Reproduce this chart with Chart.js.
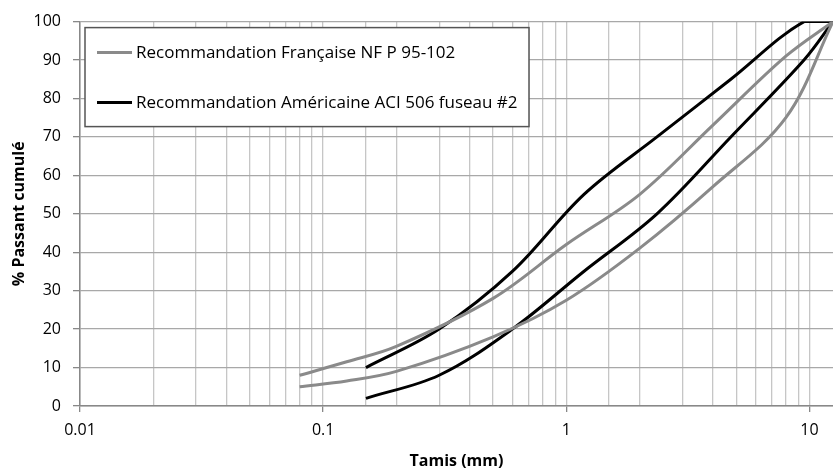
<!DOCTYPE html>
<html lang="fr">
<head>
  <meta charset="UTF-8">
  <title>Fuseaux granulométriques</title>
  <script src="https://cdn.jsdelivr.net/npm/chart.js"></script>
  <style>
    body {
      margin: 0;
      background: #fff;
    }
    #wrap {
      width: 833px;
      height: 471px;
    }
  </style>
</head>
<body>
  <div id="wrap">
    <canvas id="courbe"></canvas>
  </div>

  <script>
    // tamis (mm) et % passant
    const nfSieves = [0.08, 0.125, 0.2, 0.5, 1, 2, 4, 8, 12.5];
    const nfUpper = [8, 11.5, 15.5, 28, 42, 55, 73, 91, 100];
    const nfLower = [5, 6.5, 9, 18, 27.5, 41, 57, 75, 100];

    const aciSieves = [0.15, 0.3, 0.6, 1.18, 2.36, 4.75, 9.5, 12.5];
    const aciUpper = [10, 20, 35, 55, 70, 85, 100, 100];
    const aciLower = [2, 8, 20, 35, 50, 70, 90, 100];

    const seriesNames = [
      'Recommandation Française NF P 95-102',
      'Recommandation Américaine ACI 506 fuseau #2'
    ];
    const xTickLabels = [0.01, 0.1, 1, 10];
    const yTicks = [0, 10, 20, 30, 40, 50, 60, 70, 80, 90, 100];

    const GRAY = '#8a8a8a';
    const BLACK = '#000000';

    function toPoints(xs, ys) {
      return xs.map((x, i) => ({ x: x, y: ys[i] }));
    }

    function isDecade(v) {
      const l = Math.log10(v);
      return Math.abs(l - Math.round(l)) < 1e-9;
    }

    function lineStyle(color) {
      return {
        borderColor: color,
        backgroundColor: color,
        borderWidth: 3,
        pointRadius: 0,
        tension: 0.35,
        fill: false
      };
    }

    // légende encadrée dans la zone du graphique
    const legendBox = {
      id: 'legendBox',
      afterDatasetsDraw(chart) {
        const ctx = chart.ctx;
        const area = chart.chartArea;
        const left = area.left + 5;
        const top = area.top + 6;
        const w = 444;
        const h = 99;
        ctx.save();
        ctx.fillStyle = '#fff';
        ctx.fillRect(left, top, w, h);
        ctx.strokeStyle = '#555';
        ctx.lineWidth = 1.5;
        ctx.strokeRect(left, top, w, h);

        const entries = [
          { label: seriesNames[0], color: GRAY, y: top + 25 },
          { label: seriesNames[1], color: BLACK, y: top + 75 }
        ];
        ctx.font = '17px "Open Sans"';
        ctx.textBaseline = 'middle';
        ctx.fillStyle = '#000';
        entries.forEach(e => {
          ctx.strokeStyle = e.color;
          ctx.lineWidth = 3;
          ctx.beginPath();
          ctx.moveTo(left + 12, e.y);
          ctx.lineTo(left + 47, e.y);
          ctx.stroke();
          ctx.fillText(e.label, left + 51, e.y + 1);
        });
        ctx.restore();
      }
    };

    new Chart(document.getElementById('courbe'), {
      type: 'line',
      data: {
        datasets: [
          Object.assign({ label: seriesNames[0], data: toPoints(nfSieves, nfUpper) }, lineStyle(GRAY)),
          Object.assign({ label: seriesNames[0], data: toPoints(nfSieves, nfLower) }, lineStyle(GRAY)),
          Object.assign({ label: seriesNames[1], data: toPoints(aciSieves, aciUpper) }, lineStyle(BLACK)),
          Object.assign({ label: seriesNames[1], data: toPoints(aciSieves, aciLower) }, lineStyle(BLACK))
        ]
      },
      options: {
        responsive: true,
        maintainAspectRatio: false,
        animation: false,
        layout: {
          // la zone de tracé déborde à droite : le dernier tamis est coupé au bord
          padding: { top: 17, right: -7, bottom: 0, left: 0 }
        },
        plugins: {
          legend: { display: false },
          tooltip: { enabled: false }
        },
        scales: {
          x: {
            type: 'logarithmic',
            min: 0.01,
            max: 12.5,
            afterFit(scale) {
              scale.height = 65;
              scale.paddingLeft = 0;
              scale.paddingRight = 0;
            },
            border: { color: '#888', width: 1.5 },
            grid: {
              color: c => (c.tick && c.tick.value <= 10.0001) ? '#c6c6c6' : 'rgba(0,0,0,0)',
              lineWidth: 1.3,
              tickLength: 6,
              tickColor: c => (c.tick && isDecade(c.tick.value)) ? '#888' : 'rgba(0,0,0,0)'
            },
            ticks: {
              autoSkip: false,
              maxRotation: 0,
              padding: 9,
              color: '#000',
              font: { family: '"Open Sans"', size: 16 },
              callback: v => xTickLabels.some(t => Math.abs(t - v) < 1e-9) ? String(v) : ''
            },
            title: {
              display: true,
              text: 'Tamis (mm)',
              color: '#000',
              font: { family: '"Open Sans"', size: 16, weight: 'bold' },
              padding: { top: 0, bottom: 0 }
            }
          },
          y: {
            min: yTicks[0],
            max: yTicks[yTicks.length - 1],
            afterFit(scale) { scale.width = 80; },
            border: { color: '#888', width: 1.5 },
            grid: {
              color: '#a8a8a8',
              lineWidth: 1.3,
              tickLength: 7,
              tickColor: '#888'
            },
            ticks: {
              stepSize: 10,
              padding: 12,
              color: '#000',
              font: { family: '"Open Sans"', size: 16 }
            },
            title: {
              display: true,
              text: '% Passant cumulé',
              color: '#000',
              font: { family: '"Open Sans"', size: 16, weight: 'bold' },
              padding: { top: 10, bottom: 0 }
            }
          }
        }
      },
      plugins: [legendBox]
    });
  </script>
</body>
</html>
